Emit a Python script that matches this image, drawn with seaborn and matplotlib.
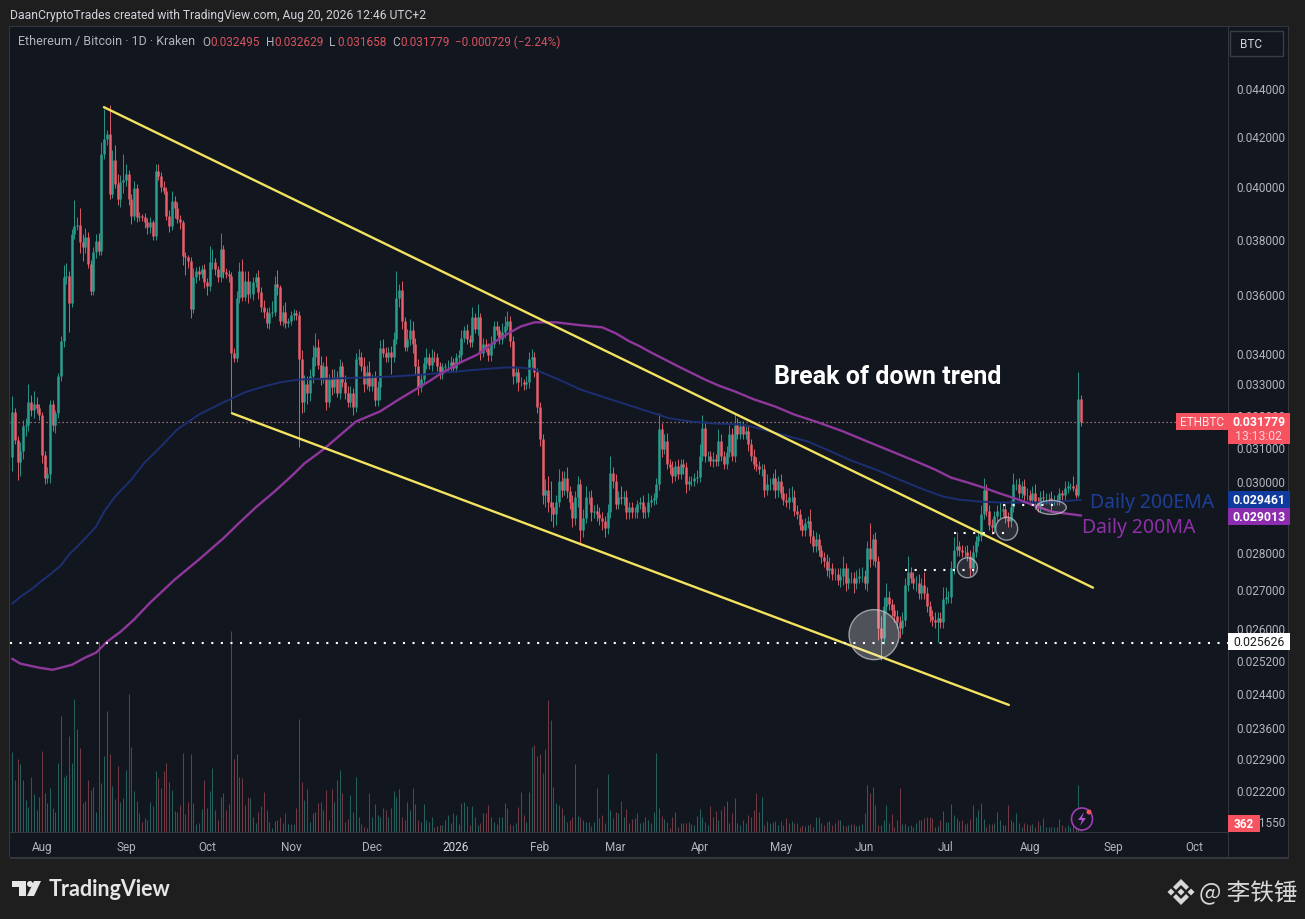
import numpy as np
import pandas as pd
import seaborn as sns
import matplotlib
matplotlib.use("Agg")
import matplotlib.pyplot as plt
from matplotlib.patches import Rectangle, Ellipse, Polygon
from matplotlib.ticker import NullLocator

# daily candles, prices in 1e-5 BTC (21 Jul 2025 -> 20 Aug 2026)
first_open = 3070
close = [
    3208,3124,3055,3090,3165,3170,3239,3215,3235,3220,
    3200,3078,3010,3020,3233,3170,3205,3322,3440,3659,
    3665,3568,3815,3846,3850,3786,3768,3805,3706,3610,
    3749,3790,3753,4125,4186,4207,3968,4104,4006,3948,
    4014,4025,4046,3948,3883,3991,3880,3883,3880,3861,
    3842,3861,3808,4058,4038,3995,3980,3883,3846,3940,
    3916,3872,3861,3735,3731,3717,3548,3659,3680,3670,
    3688,3641,3627,3713,3713,3688,3659,3760,3677,3670,
    3663,3400,3383,3585,3680,3590,3645,3600,3600,3641,
    3659,3606,3554,3537,3498,3534,3537,3634,3623,3508,
    3537,3501,3508,3526,3534,3526,3378,3240,3297,3270,
    3322,3387,3420,3360,3315,3355,3240,3315,3288,3320,
    3270,3355,3303,3270,3240,3270,3225,3378,3387,3355,
    3297,3338,3290,3320,3248,3288,3416,3400,3384,3403,
    3384,3445,3586,3615,3505,3420,3445,3475,3430,3355,
    3288,3315,3365,3384,3360,3387,3384,3355,3330,3352,
    3355,3355,3368,3350,3384,3393,3450,3475,3445,3435,
    3520,3480,3520,3400,3430,3416,3393,3430,3490,3475,
    3445,3470,3490,3505,3440,3322,3335,3305,3305,3297,
    3305,3378,3387,3335,3225,3125,2960,2975,2940,2925,
    2905,2940,3000,2975,3010,2970,2940,2895,2955,2990,
    2860,2895,2955,2955,2910,2915,2905,2895,2885,2865,
    2910,3025,3000,2935,2955,2950,2955,2910,2925,2910,
    2910,2935,2940,2910,2912,2940,2945,2950,2990,3155,
    3095,3120,3050,3040,3015,3045,3020,3050,3040,2990,
    3000,3000,3010,3012,3075,3160,3075,3075,3060,3065,
    3060,3120,3075,3050,3085,3140,3075,3170,3140,3165,
    3140,3150,3110,3075,3050,3045,3035,3035,2975,2990,
    2990,3010,2975,3000,2965,2945,2940,2955,2955,2915,
    2905,2875,2860,2880,2885,2845,2815,2835,2805,2785,
    2775,2750,2755,2740,2740,2725,2735,2755,2715,2730,
    2730,2715,2730,2735,2735,2715,2810,2780,2835,2775,
    2600,2575,2655,2680,2660,2645,2630,2615,2600,2620,
    2710,2745,2730,2715,2715,2690,2710,2690,2655,2630,
    2620,2615,2625,2615,2675,2680,2680,2755,2805,2815,
    2805,2800,2800,2790,2755,2800,2830,2845,2905,2975,
    2915,2875,2870,2900,2915,2915,2920,2895,2885,2925,
    2990,2990,2965,2985,2960,2960,2945,2965,2940,2925,
    2955,2950,2950,2950,2945,2945,2945,2965,2960,2980,
    2985,2985,2980,2960,3249,3178,
]
# wick lengths above / below the body, same units
upper_wick = [
    50,15,10,25,20,20,60,25,40,20,
    15,10,10,20,15,15,10,10,15,45,
    45,15,20,100,30,65,30,35,20,15,
    20,25,30,50,124,15,120,40,60,40,
    30,100,40,15,20,30,15,15,10,15,
    15,20,10,30,30,15,25,15,25,40,
    20,20,15,10,15,10,15,35,15,20,
    15,20,15,60,50,15,10,60,15,15,
    15,15,15,25,35,45,35,35,45,20,
    15,25,20,25,15,20,40,30,50,10,
    25,35,10,15,15,10,15,30,30,25,
    25,40,45,25,30,15,35,15,30,25,
    20,25,15,25,20,20,15,20,25,15,
    30,20,35,10,20,20,25,30,20,15,
    20,25,94,20,30,15,35,40,30,20,
    25,15,20,30,15,25,20,15,15,15,
    10,20,20,15,15,15,25,15,20,15,
    35,15,45,15,20,15,15,25,15,15,
    15,30,35,35,20,15,20,15,15,10,
    20,25,25,15,15,15,15,30,40,60,
    15,20,35,30,20,30,15,20,15,25,
    15,25,30,15,20,15,20,20,15,15,
    25,50,15,20,15,30,15,20,15,15,
    15,10,15,20,15,25,15,15,20,50,
    20,20,25,15,20,15,20,15,15,15,
    15,15,15,20,35,40,20,15,15,20,
    15,35,20,15,20,30,20,35,20,15,
    15,15,15,15,20,20,15,15,15,30,
    20,15,25,15,20,20,20,25,30,20,
    15,15,15,15,15,35,15,20,15,15,
    15,20,30,15,15,15,20,35,15,25,
    15,15,20,20,25,15,20,70,15,20,
    15,30,25,35,15,15,15,15,15,20,
    20,45,15,15,20,25,20,35,15,15,
    15,20,15,15,30,25,15,20,35,40,
    15,15,15,20,15,20,15,15,25,35,
    15,15,15,15,15,25,15,15,15,20,
    35,15,20,15,20,20,15,20,25,15,
    15,20,15,15,20,15,15,15,10,20,
    15,10,30,10,89,14,
]
lower_wick = [
    40,15,53,40,25,30,20,20,25,15,
    15,25,20,15,25,20,25,15,15,20,
    25,100,15,15,15,40,50,20,15,15,
    15,20,15,15,20,25,20,15,15,20,
    30,40,25,20,30,15,20,15,15,20,
    25,20,15,15,15,20,10,15,20,15,
    40,15,25,30,65,25,30,15,20,20,
    15,20,30,15,25,20,15,15,20,15,
    20,192,15,15,15,15,15,30,15,20,
    15,25,15,20,15,20,15,15,25,15,
    20,20,15,15,15,15,278,35,30,35,
    25,20,30,15,20,15,25,15,25,20,
    15,20,15,20,15,15,25,15,20,15,
    25,15,15,15,20,20,40,15,15,15,
    55,15,15,30,25,15,15,20,30,25,
    25,15,15,20,15,20,15,15,15,15,
    15,15,15,15,15,20,20,15,15,15,
    15,15,20,25,15,15,20,20,15,15,
    15,15,20,15,20,25,20,30,15,20,
    15,20,25,15,20,20,25,35,30,40,
    35,30,15,20,15,20,20,25,20,30,
    40,20,15,20,25,15,20,20,25,25,
    15,15,20,15,15,15,20,20,20,15,
    15,15,15,15,15,15,15,15,15,15,
    25,15,15,20,20,15,15,15,20,25,
    15,15,15,15,15,15,20,15,15,20,
    15,15,15,15,15,15,15,20,15,15,
    15,15,20,15,15,15,15,20,20,15,
    15,15,25,20,15,15,15,20,15,15,
    15,15,15,15,15,20,15,15,15,15,
    15,15,20,15,15,15,20,25,20,15,
    15,25,15,15,15,15,20,20,15,15,
    30,55,15,15,15,15,15,15,25,15,
    15,15,15,15,20,15,15,15,15,15,
    15,15,50,15,15,15,15,15,15,15,
    15,15,15,15,20,15,15,15,15,15,
    15,15,20,15,15,20,15,15,15,15,
    15,15,15,15,15,15,15,15,20,15,
    15,15,15,15,30,15,15,15,15,15,
    15,10,10,10,5,12,
]
volume = [
    80,52,73,68,52,32,25,55,38,22,
    35,81,39,29,44,24,20,69,116,55,
    57,96,69,133,103,84,29,31,52,42,
    45,20,190,49,76,121,78,46,33,66,
    30,34,62,138,85,41,31,19,10,14,
    12,30,26,61,54,44,61,69,50,42,
    21,20,27,79,18,30,78,29,8,9,
    23,52,24,41,64,22,12,35,39,22,
    28,201,73,78,55,54,27,35,34,15,
    9,20,26,40,22,10,4,11,12,15,
    9,19,8,8,8,24,113,50,32,43,
    10,19,20,29,30,22,42,12,43,30,
    52,62,39,10,13,37,20,55,15,8,
    5,4,39,15,28,17,15,24,22,15,
    24,41,35,43,15,12,30,22,44,28,
    12,10,28,12,10,15,5,6,7,7,
    12,17,9,19,17,8,29,30,26,7,
    26,15,7,9,19,19,27,15,10,8,
    15,15,29,24,8,7,9,25,40,17,
    10,40,85,87,76,78,59,83,132,112,
    45,29,27,24,17,10,12,15,68,16,
    15,12,10,10,6,10,44,14,17,9,
    58,22,14,20,19,31,15,23,9,13,
    14,19,9,10,15,12,9,20,79,24,
    16,13,10,4,15,20,5,9,9,9,
    10,8,7,16,23,15,10,7,26,15,
    21,12,22,26,31,9,19,34,9,7,
    12,9,17,15,22,39,20,35,7,11,
    9,10,11,7,11,7,14,9,11,9,
    9,5,7,6,7,8,5,15,15,9,
    7,10,11,7,9,12,12,7,6,7,
    8,8,6,7,8,19,47,39,45,27,
    7,7,12,27,9,18,5,12,44,8,
    8,6,7,5,9,12,12,14,15,15,
    14,5,6,12,21,10,10,28,17,14,
    11,12,8,9,13,27,15,22,29,13,
    5,8,8,9,20,12,7,7,27,12,
    10,19,9,5,9,8,7,8,5,11,
    7,14,5,5,5,5,5,13,7,5,
    7,5,6,6,47,5,
]

# moving averages, (day number, price)
ema_days = [0,3,7,10,14,18,21,24,27,31,34,38,44,49,55,61,69,78,86,93,99,106,121,141,153,164,173,182,188,193,202,210,221,236,243,251,260,270,280,294,302,309,319,328,335,344,350,357,365,375,383,395]
ema_vals = [2662,2680,2699,2717,2739,2763,2793,2814,2837,2870,2912,2955,3004,3055,3103,3155,3201,3239,3271,3290,3303,3312,3316,3322,3329,3338,3345,3351,3351,3345,3312,3280,3249,3208,3189,3179,3173,3170,3149,3118,3090,3064,3034,3004,2981,2955,2946,2941,2938,2938,2938,2946]
ma_days = [0,3,10,15,22,27,31,35,40,45,51,60,69,78,84,90,97,103,108,115,121,127,136,143,149,154,158,165,172,178,184,188,193,201,210,218,223,228,232,236,247,256,261,267,274,282,289,297,307,316,325,334,341,347,353,359,365,372,378,384,389,395]
ma_vals = [2523,2511,2501,2496,2508,2526,2538,2565,2590,2621,2665,2725,2779,2837,2881,2924,2970,3013,3052,3094,3136,3179,3211,3249,3280,3306,3329,3365,3394,3434,3468,3488,3502,3502,3492,3485,3465,3438,3421,3401,3351,3312,3293,3274,3249,3226,3201,3179,3149,3118,3088,3058,3034,3010,2996,2981,2964,2946,2929,2912,2907,2901]

# trend lines and levels drawn by hand on the chart
upper_trend_days, upper_trend_vals = [33.9, 399.4], [4319, 2704]
lower_trend_days, lower_trend_vals = [81.2, 368.3], [3205, 2412]
support = 2562.6
last_price = 3177.9
levels = [(330, 356, 2752), (348, 367, 2853), (366, 385, 2932)]

y_ticks = [0.044, 0.042, 0.040, 0.038, 0.036, 0.034, 0.033, 0.032, 0.031, 0.030, 0.028, 0.027, 0.026,
           0.0252, 0.0244, 0.0236, 0.0229, 0.0222, 0.02155]
y_labels = ["0.044000", "0.042000", "0.040000", "0.038000", "0.036000", "0.034000", "0.033000", "0.032000",
            "0.031000", "0.030000", "0.028000", "0.027000", "0.026000", "0.025200", "0.024400", "0.023600",
            "0.022900", "0.022200", "0.021550"]
x_ticks = [11, 42, 72, 103, 133, 164, 195, 223, 254, 284, 315, 345, 376, 407, 437]
x_labels = ["Aug", "Sep", "Oct", "Nov", "Dec", "2026", "Feb", "Mar", "Apr", "May", "Jun", "Jul", "Aug", "Sep", "Oct"]

W, H = 1305, 920
BG = "#1e1e1e"
PANEL = "#12161f"
GREEN = "#2b9e8f"
RED = "#e85f6b"
TXT = "#b2b5be"
YELLOW = "#f3e35f"
NAVY = "#1b2f72"
PURPLE = "#8f379c"

sns.set_theme(style="dark")
plt.rcParams["font.family"] = ["Roboto", "Noto Sans CJK SC", "DejaVu Sans"]

df = pd.DataFrame({"close": close, "upper": upper_wick, "lower": lower_wick, "volume": volume}, dtype=float)
df["day"] = np.arange(len(df))
df["open"] = df["close"].shift(1).fillna(first_open)
df["high"] = df[["open", "close"]].max(axis=1) + df["upper"]
df["low"] = df[["open", "close"]].min(axis=1) - df["lower"]
up = df["close"] >= df["open"]
for col in ["open", "close", "high", "low"]:
    df[col] = df[col] * 1e-5

fig = plt.figure(figsize=(W / 100, H / 100), dpi=100, facecolor=BG)


def fx(x):
    return x / W


def fy(y):
    return 1 - y / H


def box(x0, y0, x1, y1, color, z=5):
    fig.add_artist(Rectangle((fx(x0), fy(y1)), (x1 - x0) / W, (y1 - y0) / H, facecolor=color,
                             transform=fig.transFigure, zorder=z, linewidth=0))


def label(x, y, s, color=TXT, size=8.5, ha="left", z=6, **kw):
    fig.text(fx(x), fy(y), s, color=color, fontsize=size, ha=ha, va="center", zorder=z, **kw)


def poly(points, color, z=6):
    pts = [(fx(a), fy(b)) for a, b in points]
    fig.add_artist(Polygon(pts, closed=True, facecolor=color, edgecolor="none", transform=fig.transFigure, zorder=z))


# panel behind everything
box(10, 28, 1289, 858, PANEL, z=0)

pos = [fx(10), fy(833), 1218 / W, 805 / H]
ax_vol = fig.add_axes(pos, zorder=1)
ax = fig.add_axes(pos, zorder=2)

# volume sits in its own linear axes under the candles
ax_vol.patch.set_alpha(0)
ax_vol.vlines(df["day"], 0, df["volume"], colors=np.where(up, "#2a6f6a", "#84404a"), linewidth=0.6)
ax_vol.set_xlim(-0.81, 449.3)
ax_vol.set_ylim(0, 805)
ax_vol.axis("off")

ax.patch.set_alpha(0)
ax.set_yscale("log")

# candles
ax.vlines(df["day"], df["low"], df["high"], colors=np.where(up, GREEN, RED), linewidth=0.65, zorder=3)
ax.vlines(df["day"], df[["open", "close"]].min(axis=1), df[["open", "close"]].max(axis=1),
          colors=np.where(up, GREEN, RED), linewidth=1.8, zorder=3)

sns.lineplot(x=ema_days, y=np.array(ema_vals) * 1e-5, ax=ax, color=NAVY, linewidth=1.4, zorder=4, estimator=None)
sns.lineplot(x=ma_days, y=np.array(ma_vals) * 1e-5, ax=ax, color=PURPLE, linewidth=1.7, zorder=4, estimator=None)
sns.lineplot(x=upper_trend_days, y=np.array(upper_trend_vals) * 1e-5, ax=ax, color=YELLOW, linewidth=1.7, zorder=5, estimator=None)
sns.lineplot(x=lower_trend_days, y=np.array(lower_trend_vals) * 1e-5, ax=ax, color=YELLOW, linewidth=1.7, zorder=5, estimator=None)

ax.axhline(last_price * 1e-5, color="#f2a0a8", linewidth=0.9, linestyle=(0, (1, 2.2)), zorder=2, alpha=0.8)
ax.axhline(support * 1e-5, color="white", linewidth=1.5, linestyle=(0, (1, 3.6)), zorder=6)
for start, end, val in levels:
    ax.plot([start, end], [val * 1e-5, val * 1e-5], color="white", linewidth=1.5, linestyle=(0, (1, 3.6)), zorder=6)

ax.set_xlim(-0.81, 449.3)
ax.set_ylim(0.02131, 0.0467)
ax.yaxis.tick_right()
ax.set_yticks(y_ticks)
ax.set_yticklabels(y_labels)
ax.yaxis.set_minor_locator(NullLocator())
ax.set_xticks(x_ticks)
ax.set_xticklabels(x_labels)
ax.tick_params(axis="y", length=0, pad=6, labelsize=8.5, labelcolor=TXT)
ax.tick_params(axis="x", length=0, pad=6, labelsize=8.5, labelcolor=TXT)
ax.get_xticklabels()[5].set_color("#d8dae0")
ax.grid(False)
ax.set_xlabel("")
ax.set_ylabel("")
for spine in ax.spines.values():
    spine.set_visible(False)

# hand drawn highlights, sized in pixels so they stay round on the log axis
for day, val, w, h, alpha in [(318.5, 2583, 50, 50, 0.26), (353.0, 2757, 20, 20, 0.1),
                              (367.5, 2864, 22, 23, 0.1), (384.0, 2924, 30, 14, 0.1)]:
    cx, cy = ax.transData.transform((day, val * 1e-5))
    ax.add_patch(Ellipse((cx, cy), w, h, transform=None, facecolor="white", alpha=alpha, edgecolor="none", zorder=7))
    ax.add_patch(Ellipse((cx, cy), w, h, transform=None, facecolor="none", alpha=0.7, edgecolor="#c9cbd1",
                         linewidth=1.0, zorder=7))

# panel frame and axis strips
for x0, y0, x1, y1 in [(10, 27, 1289, 28), (9, 27, 10, 858), (10, 858, 1289, 860), (1288, 27, 1289, 858),
                       (1228, 28, 1229, 858), (10, 833, 1228, 834)]:
    box(x0, y0, x1, y1, "#33363d", z=3)

# header
label(10, 15, "DaanCryptoTrades created with TradingView.com, Aug 20, 2026 12:46 UTC+2", color="#d1d4dc", size=8.7)
label(18, 42, "Ethereum / Bitcoin · 1D · Kraken", size=9)
for x, s, c in [(202, "O", TXT), (210, "0.032495", "#d8545f"), (266, "H", TXT), (274, "0.032629", "#d8545f"),
                (329, "L", TXT), (337, "0.031658", "#d8545f"), (392, "C", TXT), (400, "0.031779", "#d8545f"),
                (455, "−0.000729 (−2.24%)", "#d8545f")]:
    label(x, 42, s, color=c, size=8.5)

# BTC button
fig.add_artist(Rectangle((fx(1230), fy(57)), 53 / W, 25 / H, facecolor=PANEL, edgecolor="#3a3d44", linewidth=1,
                         transform=fig.transFigure, zorder=5))
label(1240, 44, "BTC", color="#d1d4dc", size=8.5)

# chart annotations
label(774, 377, "Break of down trend", color="white", size=18, fontweight="bold")
label(1090, 503, "Daily 200EMA", color="#1c3f95", size=14, family=["Noto Sans", "DejaVu Sans"])
label(1082, 528, "Daily 200MA", color="#8e30a8", size=14, family=["Noto Sans", "DejaVu Sans"])

# price tags on the right scale
box(1176, 414, 1228, 431, "#f7525f")
label(1202, 423, "ETHBTC", color="#fde8ea", size=8.5, ha="center")
box(1228, 414, 1290, 445, "#f7525f")
label(1259, 423, "0.031779", color="white", size=8.8, ha="center", fontweight="bold")
label(1259, 437, "13:13:02", color="#fbd3d6", size=8.8, ha="center")
box(1228, 492, 1290, 509, "#0f3a9e")
label(1259, 501, "0.029461", color="white", size=8.8, ha="center", fontweight="bold")
box(1228, 509, 1290, 526, "#8c2cae")
label(1259, 518, "0.029013", color="white", size=8.8, ha="center", fontweight="bold")
box(1228, 634, 1290, 651, "white")
label(1259, 643, "0.025626", color="#1a1a1a", size=8.8, ha="center")
box(1228, 816, 1260, 833, "#f7525f")
label(1244, 825, "362", color="white", size=8.5, ha="center", fontweight="bold")

# lightning badge next to the last volume bar
fig.add_artist(Ellipse((fx(1082), fy(820)), 21 / W, 22 / H, facecolor=PANEL, edgecolor="#9c3fb5", linewidth=1.2,
                       transform=fig.transFigure, zorder=6))
poly([(1084, 813), (1078, 821), (1082, 821), (1080, 827), (1086, 819), (1082, 819)], "#b04fd0", z=7)
fig.add_artist(Ellipse((fx(1089), fy(813)), 5 / W, 5 / H, facecolor="#f7525f", edgecolor="none",
                       transform=fig.transFigure, zorder=8))

# TradingView logo
poly([(12, 882), (26, 882), (26, 897), (19, 897), (19, 888), (12, 888)], "#e6e6e6")
fig.add_artist(Ellipse((fx(30), fy(885)), 6 / W, 6 / H, facecolor="#e6e6e6", edgecolor="none",
                       transform=fig.transFigure, zorder=6))
poly([(34, 882), (41, 882), (34, 897), (27, 897)], "#e6e6e6")
label(49, 890, "TradingView", color="#e6e6e6", size=15.5, fontweight="bold", family=["Lato", "DejaVu Sans"])

# watermark
poly([(1181, 880), (1189, 888), (1186, 891), (1181, 886), (1176, 891), (1173, 888)], "#d8d8d8")
poly([(1181, 906), (1189, 898), (1186, 895), (1181, 900), (1176, 895), (1173, 898)], "#d8d8d8")
for cx in (1171, 1181, 1191):
    poly([(cx, 889.5), (cx + 3.5, 893), (cx, 896.5), (cx - 3.5, 893)], "#d8d8d8")
label(1199, 893, "@ 李铁锤", color="#d8d8d8", size=17, family=["Noto Sans CJK SC", "DejaVu Sans"])

fig.savefig("out.png", dpi=100, facecolor=BG)
